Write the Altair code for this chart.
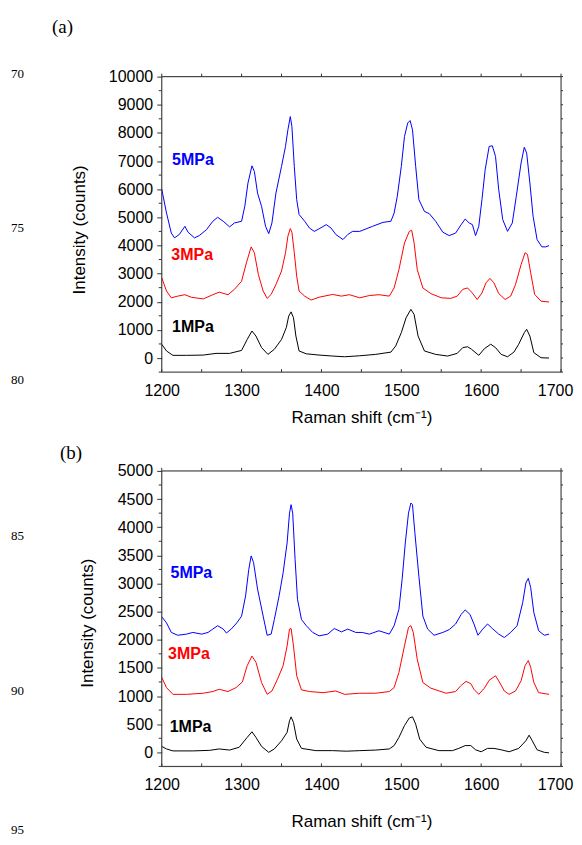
import altair as alt
import pandas as pd

# ---------------- data ----------------
# Panel (a)
a5_x = [1200, 1206, 1212, 1216, 1222, 1229, 1233, 1241, 1247, 1256, 1264, 1270, 1277, 1285, 1291, 1300,
        1304, 1308, 1313, 1316, 1320, 1325, 1330, 1334, 1338, 1343, 1350, 1355, 1358, 1361, 1363, 1366,
        1369, 1372, 1379, 1385, 1391, 1397, 1406, 1412, 1418, 1427, 1433, 1439, 1448, 1464, 1477, 1487,
        1491, 1495, 1500, 1504, 1508, 1511, 1514, 1518, 1522, 1529, 1535, 1543, 1552, 1560, 1568, 1575,
        1580, 1585, 1589, 1593, 1597, 1601, 1605, 1610, 1614, 1618, 1622, 1627, 1633, 1639, 1644, 1650,
        1654, 1657, 1661, 1665, 1670, 1676, 1681, 1685]
a5_y = [6000, 5150, 4440, 4270, 4390, 4680, 4470, 4270, 4350, 4560, 4860, 5000, 4860, 4660, 4800, 4860,
        5390, 6220, 6830, 6630, 5860, 5390, 4680, 4420, 4800, 5860, 6810, 7520, 8110, 8580, 8230, 6810,
        5630, 5100, 4860, 4620, 4500, 4590, 4740, 4620, 4390, 4210, 4390, 4500, 4500, 4680, 4820, 4860,
        5150, 5750, 6810, 7870, 8350, 8440, 8110, 6810, 5630, 5210, 5130, 4860, 4470, 4350, 4440, 4740,
        4940, 4800, 4740, 4350, 4680, 5630, 6690, 7520, 7540, 7160, 5980, 4920, 4500, 4800, 5750, 6930,
        7490, 7280, 6220, 5040, 4210, 3950, 3950, 3995]

a3_x = [1200, 1206, 1212, 1220, 1229, 1237, 1252, 1264, 1272, 1283, 1291, 1300, 1306, 1312, 1316, 1321,
        1327, 1332, 1337, 1343, 1350, 1355, 1358, 1361, 1363, 1366, 1369, 1372, 1379, 1387, 1397, 1414,
        1425, 1435, 1448, 1460, 1472, 1485, 1491, 1497, 1504, 1510, 1513, 1516, 1520, 1527, 1537, 1550,
        1562, 1570, 1577, 1583, 1589, 1595, 1601, 1606, 1611, 1616, 1622, 1630, 1637, 1643, 1650, 1655,
        1658, 1662, 1667, 1675, 1685]
a3_y = [2850, 2380, 2140, 2200, 2250, 2160, 2100, 2250, 2340, 2250, 2440, 2730, 3380, 3950, 3740, 2970,
        2380, 2120, 2260, 2610, 3090, 3740, 4330, 4600, 4470, 3740, 2910, 2380, 2200, 2060, 2160, 2260,
        2200, 2250, 2140, 2220, 2250, 2200, 2490, 3140, 4090, 4500, 4540, 4090, 3140, 2490, 2290, 2140,
        2120, 2200, 2440, 2490, 2310, 2080, 2310, 2670, 2830, 2670, 2290, 2080, 2200, 2610, 3320, 3740,
        3680, 3030, 2260, 2020, 1990]

a1_x = [1200, 1206, 1214, 1231, 1252, 1268, 1285, 1300, 1307, 1313, 1318, 1325, 1333, 1341, 1350, 1356,
        1359, 1362, 1365, 1368, 1372, 1381, 1397, 1414, 1429, 1448, 1468, 1487, 1493, 1500, 1506, 1512,
        1516, 1521, 1529, 1543, 1558, 1570, 1577, 1583, 1588, 1597, 1604, 1612, 1618, 1625, 1633, 1641,
        1647, 1654, 1657, 1661, 1666, 1675, 1685]
a1_y = [490, 250, 95, 95, 105, 165, 165, 270, 660, 960, 780, 370, 130, 310, 660, 1080,
        1490, 1640, 1430, 780, 250, 150, 105, 70, 45, 80, 130, 210, 430, 900, 1430, 1730,
        1550, 780, 250, 130, 70, 165, 370, 400, 310, 95, 330, 490, 370, 130, 45, 210,
        490, 900, 1020, 780, 190, 10, 0]

# Panel (b)
b5_x = [1200, 1206, 1212, 1220, 1231, 1239, 1250, 1258, 1264, 1270, 1277, 1281, 1287, 1294, 1300, 1305,
        1309, 1312, 1315, 1320, 1327, 1332, 1337, 1341, 1347, 1352, 1357, 1360, 1362, 1364, 1367, 1370,
        1375, 1381, 1389, 1397, 1408, 1416, 1425, 1433, 1443, 1451, 1460, 1472, 1485, 1491, 1497, 1501,
        1505, 1509, 1512, 1514, 1517, 1522, 1527, 1533, 1541, 1552, 1560, 1568, 1575, 1580, 1586, 1591,
        1596, 1602, 1608, 1614, 1622, 1629, 1637, 1645, 1652, 1656, 1659, 1662, 1666, 1672, 1679, 1685]
b5_y = [2410, 2300, 2130, 2080, 2100, 2130, 2100, 2130, 2190, 2250, 2190, 2120, 2190, 2300, 2420, 2780,
        3250, 3490, 3370, 2900, 2420, 2080, 2100, 2360, 2780, 3190, 3720, 4250, 4400, 4250, 3430, 2720,
        2360, 2250, 2130, 2070, 2100, 2200, 2140, 2190, 2130, 2130, 2100, 2160, 2100, 2250, 2540, 3070,
        3720, 4250, 4430, 4400, 3900, 3130, 2420, 2190, 2080, 2130, 2180, 2280, 2450, 2530, 2450, 2280,
        2080, 2190, 2280, 2200, 2100, 2040, 2130, 2250, 2660, 3010, 3090, 2930, 2480, 2160, 2080, 2100]

b3_x = [1200, 1206, 1214, 1231, 1252, 1264, 1272, 1283, 1293, 1301, 1307, 1313, 1318, 1325, 1332, 1338,
        1345, 1352, 1357, 1360, 1362, 1365, 1369, 1375, 1385, 1402, 1418, 1429, 1448, 1468, 1485, 1491,
        1497, 1504, 1509, 1512, 1515, 1520, 1527, 1537, 1556, 1568, 1575, 1581, 1587, 1591, 1597, 1604,
        1610, 1618, 1622, 1629, 1635, 1643, 1650, 1655, 1659, 1662, 1666, 1672, 1685]
b3_y = [1330, 1150, 1030, 1030, 1050, 1080, 1120, 1080, 1150, 1250, 1540, 1710, 1600, 1240, 1030, 1090,
        1300, 1540, 1890, 2190, 2200, 1890, 1360, 1110, 1080, 1060, 1090, 1030, 1050, 1050, 1080, 1150,
        1420, 1890, 2220, 2250, 2130, 1650, 1240, 1140, 1050, 1080, 1190, 1260, 1220, 1120, 1030, 1140,
        1280, 1360, 1270, 1090, 1030, 1090, 1270, 1540, 1630, 1510, 1240, 1060, 1030]

b1_x = [1200, 1206, 1214, 1239, 1260, 1272, 1285, 1297, 1307, 1313, 1318, 1325, 1334, 1341, 1350, 1357,
        1360, 1362, 1365, 1369, 1375, 1393, 1414, 1431, 1448, 1468, 1485, 1491, 1497, 1504, 1510, 1514,
        1518, 1523, 1531, 1547, 1564, 1572, 1580, 1587, 1593, 1600, 1608, 1616, 1625, 1635, 1647, 1656,
        1660, 1664, 1670, 1679, 1685]
b1_y = [105, 60, 25, 25, 35, 60, 40, 90, 265, 365, 265, 105, 0, 60, 205, 355,
        560, 630, 530, 235, 70, 30, 30, 20, 30, 40, 60, 120, 265, 475, 610, 630,
        500, 235, 90, 30, 30, 70, 120, 120, 45, 10, 70, 70, 45, 10, 70, 205,
        305, 205, 45, 0, -10]

series_names = ["1MPa", "3MPa", "5MPa"]
series_colors = ["#000000", "#ff0000", "#0000ff"]

x_tick_labels = [1200, 1300, 1400, 1500, 1600, 1700]
x_ticks_all = [1200, 1250, 1300, 1350, 1400, 1450, 1500, 1550, 1600, 1650, 1700]

a_y_major = list(range(0, 10001, 1000))
a_y_minor = list(range(-500, 10001, 1000))
b_y_major = list(range(0, 5001, 500))
b_y_minor = list(range(-250, 5001, 500))

# ---------------- layout constants ----------------
W = 400
H = 296
AXC = "#333333"
SANS = "Liberation Sans"
SERIF = "Liberation Serif"
one_row = pd.DataFrame({"k": [0]})


def text_layer(label, x, y, size, font, color="black", weight="normal", align="left"):
    return alt.Chart(pd.DataFrame({"t": [label]})).mark_text(
        font=font, fontSize=size, fontWeight=weight, color=color,
        align=align, baseline="middle", clip=False
    ).encode(x=alt.value(x), y=alt.value(y), text="t:N")


def panel(curves, ydom, ymajor, yminor, series_lbl, panel_lbl, line_nums,
          xtitle_y, ytitle_x, ytitle_y, box):
    frames = []
    for name, xs, ys in curves:
        frames.append(pd.DataFrame({"shift": xs, "counts": ys, "series": name}))
    df = pd.concat(frames, ignore_index=True)

    xscale = alt.Scale(domain=[1200, 1700], nice=False, zero=False)
    yscale = alt.Scale(domain=ydom, nice=False, zero=False)
    cscale = alt.Scale(domain=series_names, range=series_colors)

    # invisible box that fixes the panel's outer bounds
    bounds_box = alt.Chart(one_row).mark_rect(opacity=0, fill="white").encode(
        x=alt.value(box[0]), x2=alt.value(box[1]), y=alt.value(box[2]), y2=alt.value(box[3]))

    frame = alt.Chart(one_row).mark_rect(fillOpacity=0, stroke=AXC, strokeWidth=1).encode(
        x=alt.value(0), x2=alt.value(W), y=alt.value(0), y2=alt.value(H))

    lines = alt.Chart(df).mark_line(strokeWidth=1).encode(
        x=alt.X("shift:Q", scale=xscale,
                axis=alt.Axis(orient="bottom", values=x_tick_labels,
                              ticks=False, domain=False, grid=False,
                              format="d", labelFont=SANS, labelFontSize=16, labelColor="black",
                              labelPadding=10, labelFlush=False, labelOverlap=False,
                              labelOffset={"condition": {"test": "datum.value == 1700", "value": -6},
                                           "value": 0},
                              title="Raman shift (cm⁻¹)", titleFont=SANS, titleFontSize=17,
                              titleFontWeight="normal", titleColor="black",
                              titleY=xtitle_y, titleBaseline="middle")),
        y=alt.Y("counts:Q", scale=yscale,
                axis=alt.Axis(orient="left", values=ymajor,
                              tickSize=5, tickColor=AXC, domain=False, grid=False,
                              format="d", labelFont=SANS, labelFontSize=16, labelColor="black",
                              labelPadding=4, labelFlush=False, labelOverlap=False,
                              title="Intensity (counts)", titleFont=SANS, titleFontSize=17,
                              titleFontWeight="normal", titleColor="black",
                              titleX=ytitle_x, titleY=ytitle_y, titleAlign="center",
                              titleBaseline="middle")),
        color=alt.Color("series:N", scale=cscale, legend=None),
        order=alt.Order("shift:Q"),
    )

    xt = pd.DataFrame({"shift": x_ticks_all})
    top_ticks = alt.Chart(xt).mark_rule(color=AXC, strokeWidth=1).encode(
        x=alt.X("shift:Q", scale=xscale, axis=None), y=alt.value(-3), y2=alt.value(0))
    bot_ticks = alt.Chart(xt).mark_rule(color=AXC, strokeWidth=1).encode(
        x=alt.X("shift:Q", scale=xscale, axis=None), y=alt.value(H - 3), y2=alt.value(H))

    ymin = pd.DataFrame({"counts": yminor})
    yall = pd.DataFrame({"counts": sorted(ymajor + yminor)})
    left_minor = alt.Chart(ymin).mark_rule(color=AXC, strokeWidth=1).encode(
        y=alt.Y("counts:Q", scale=yscale, axis=None), x=alt.value(-3), x2=alt.value(0))
    right_ticks = alt.Chart(yall).mark_rule(color=AXC, strokeWidth=1).encode(
        y=alt.Y("counts:Q", scale=yscale, axis=None), x=alt.value(W), x2=alt.value(W + 2))

    lbl_df = pd.DataFrame(series_lbl)
    labels = alt.Chart(lbl_df).mark_text(
        font=SANS, fontSize=16, fontWeight="bold", align="left", baseline="middle"
    ).encode(
        x=alt.X("shift:Q", scale=xscale, axis=None),
        y=alt.Y("counts:Q", scale=yscale, axis=None),
        text="series:N",
        color=alt.Color("series:N", scale=cscale, legend=None),
    )

    layers = [lines, bounds_box, frame, top_ticks, bot_ticks, left_minor, right_ticks, labels]
    layers.append(text_layer(panel_lbl[0], panel_lbl[1], panel_lbl[2], 19, SERIF))
    for num, yy in line_nums:
        layers.append(text_layer(num, -151, yy, 13, SERIF))

    return alt.layer(*layers).resolve_axis(x="independent", y="independent").properties(
        width=W, height=H)


# panel (a): plot origin on the page at (162, 75); panel (b) at (162, 468)
panel_a = panel(
    [("5MPa", a5_x, a5_y), ("3MPa", a3_x, a3_y), ("1MPa", a1_x, a1_y)],
    [-500, 10000], a_y_major, a_y_minor,
    {"series": ["5MPa", "3MPa", "1MPa"], "shift": [1213, 1212, 1213], "counts": [7050, 3650, 1100]},
    ("(a)", -110, -50),
    [("70", -3), ("75", 152), ("80", 304)],
    45, -82, 153,
    (-153, 412, -67, 355),
)

panel_b = panel(
    [("5MPa", b5_x, b5_y), ("3MPa", b3_x, b3_y), ("1MPa", b1_x, b1_y)],
    [-250, 5000], b_y_major, b_y_minor,
    {"series": ["5MPa", "3MPa", "1MPa"], "shift": [1211, 1208, 1210], "counts": [3190, 1738, 443]},
    ("(b)", -102, -18),
    [("85", 65), ("90", 220), ("95", 360)],
    55, -74, 152,
    (-153, 412, -38, 367),
)

chart = alt.vconcat(panel_a, panel_b, spacing=0).properties(
    padding={"left": 0, "top": 0, "right": 0, "bottom": 0}
).configure_view(strokeWidth=0).configure(background="white")

chart.save("out.html", embed_options={"renderer": "svg", "actions": False})
